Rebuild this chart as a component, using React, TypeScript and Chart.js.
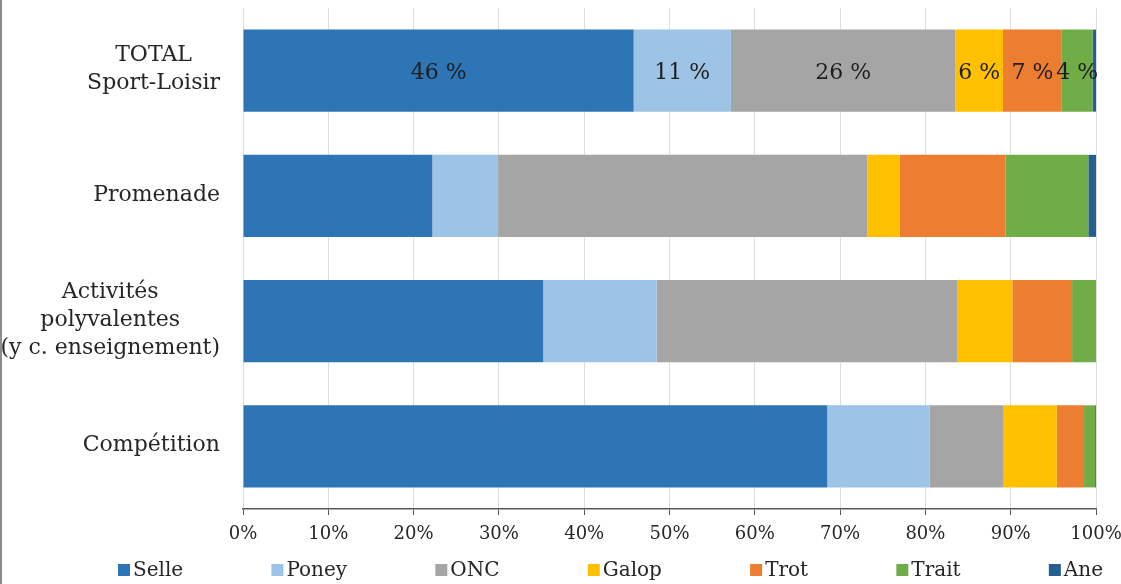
import React, { useEffect, useRef } from "react";
import { Chart, registerables } from "chart.js";

Chart.register(...registerables);

// ---- data ----
const categories: (string | string[])[] = [
  ["TOTAL", "Sport-Loisir"],
  "Promenade",
  ["Activités", "polyvalentes", "(y c. enseignement)"],
  "Compétition",
];
const seriesNames = ["Selle", "Poney", "ONC", "Galop", "Trot", "Trait", "Ane"];
const selle = [45.8, 22.2, 35.2, 68.5];
const poney = [11.4, 7.7, 13.3, 12.0];
const onc = [26.3, 43.3, 35.2, 8.6];
const galop = [5.6, 3.8, 6.5, 6.3];
const trot = [6.9, 12.4, 7.0, 3.2];
const trait = [3.6, 9.7, 2.8, 1.3];
const ane = [0.4, 0.9, 0.0, 0.1];
const seriesValues = [selle, poney, onc, galop, trot, trait, ane];
const seriesColors = ["#2E75B6", "#9DC3E6", "#A5A5A5", "#FFC000", "#ED7D31", "#70AD47", "#255E91"];
const labelledCategory = 0; // only the TOTAL bar carries value labels
const xMin = 0;
const xMax = 100;
const xStep = 10;

// ---- styles ----
const FONT = '"DejaVu Serif", "Liberation Serif", serif';
const TEXT = "#262626";
const W = 1121;
const H = 584;

const framePlugin = {
  id: "frame",
  beforeDraw(chart: any) {
    const ctx = chart.ctx;
    ctx.save();
    ctx.fillStyle = "#ffffff";
    ctx.fillRect(0, 0, chart.width, chart.height);
    ctx.fillStyle = "#8c8c8c";
    ctx.fillRect(0, 0, 2, chart.height);
    ctx.restore();
  },
};

const yLabelPlugin = {
  id: "yLabels",
  afterDraw(chart: any) {
    const ctx = chart.ctx;
    const s = chart.scales.y;
    const lh = 28;
    ctx.save();
    ctx.font = `22px ${FONT}`;
    ctx.fillStyle = TEXT;
    ctx.textAlign = "center";
    ctx.textBaseline = "middle";
    categories.forEach((c, i) => {
      const lines = Array.isArray(c) ? c : [c];
      const y = s.getPixelForTick(i);
      const w = Math.max(...lines.map((l) => ctx.measureText(l).width));
      const cx = s.right - 23 - w / 2;
      lines.forEach((l, j) => {
        ctx.fillText(l, cx, y + (j - (lines.length - 1) / 2) * lh - 1);
      });
    });
    ctx.restore();
  },
};

const dataLabelPlugin = {
  id: "dataLabels",
  afterDatasetsDraw(chart: any) {
    const ctx = chart.ctx;
    ctx.save();
    ctx.font = `22px ${FONT}`;
    ctx.fillStyle = "#1e1e1e";
    ctx.textAlign = "center";
    ctx.textBaseline = "middle";
    chart.data.datasets.forEach((ds: any, i: number) => {
      const v = ds.data[labelledCategory];
      if (v < 1) return;
      const el = chart.getDatasetMeta(i).data[labelledCategory];
      const { x, base, y } = el.getProps(["x", "base", "y"], true);
      ctx.fillText(Math.round(v) + " %", (x + base) / 2, y + 3);
    });
    ctx.restore();
  },
};

const legendPlugin = {
  id: "customLegend",
  afterDraw(chart: any) {
    const ctx = chart.ctx;
    const start = 118;
    const end = 1103;
    const box = 12;
    const gapText = 3;
    const cy = 570;
    ctx.save();
    ctx.font = `20px ${FONT}`;
    ctx.textBaseline = "middle";
    ctx.textAlign = "left";
    const widths = seriesNames.map((n) => box + gapText + ctx.measureText(n).width);
    const total = widths.reduce((a, b) => a + b, 0);
    const gap = (end - start - total) / (seriesNames.length - 1);
    let x = start;
    seriesNames.forEach((n, i) => {
      ctx.fillStyle = seriesColors[i];
      ctx.fillRect(x, cy - box / 2, box, box);
      ctx.fillStyle = TEXT;
      ctx.fillText(n, x + box + gapText, cy + 1);
      x += widths[i] + gap;
    });
    ctx.restore();
  },
};

export default function App() {
  const ref = useRef<HTMLCanvasElement>(null);
  useEffect(() => {
    document.body.style.margin = "0";
    const canvas = ref.current!;
    const chart = new Chart(canvas, {
      type: "bar",
      data: {
        labels: categories as any,
        datasets: seriesNames.map((n, i) => ({
          label: n,
          data: seriesValues[i],
          backgroundColor: seriesColors[i],
          borderWidth: 0,
          barPercentage: 1,
          categoryPercentage: 0.655,
        })),
      },
      options: {
        indexAxis: "y",
        responsive: false,
        maintainAspectRatio: false,
        animation: false,
        layout: { padding: { top: 8, left: 0, right: 0, bottom: 0 } },
        scales: {
          x: {
            stacked: true,
            min: xMin,
            max: xMax,
            ticks: {
              stepSize: xStep,
              callback: (v: any) => v + "%",
              font: { family: FONT, size: 18 },
              color: TEXT,
              padding: 9,
              maxRotation: 0,
            },
            grid: { color: "#DDDDDD", lineWidth: 1, tickColor: "#595959", tickLength: 6 },
            border: { color: "#595959", width: 1.5 },
            afterFit: (s: any) => {
              s.height = 75;
              s.paddingLeft = 0;
              s.paddingRight = 25;
            },
          },
          y: {
            stacked: true,
            grid: { display: false },
            border: { display: false },
            ticks: { display: false },
            afterFit: (s: any) => {
              s.width = 243;
            },
          },
        },
        plugins: { legend: { display: false }, tooltip: { enabled: false } },
      } as any,
      plugins: [framePlugin, yLabelPlugin, dataLabelPlugin, legendPlugin],
    });
    return () => chart.destroy();
  }, []);
  return <canvas ref={ref} width={W} height={H} style={{ display: "block" }} />;
}
